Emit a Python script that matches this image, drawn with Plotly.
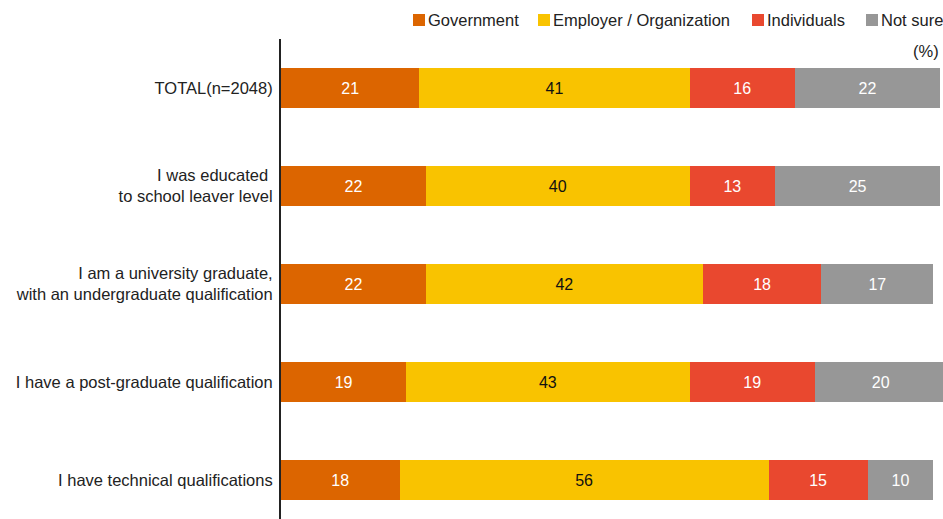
import plotly.graph_objects as go

# Survey data: who should pay for training, by education level (%)
categories = [
    "TOTAL(n=2048)",
    "I was educated\u00a0<br>to school leaver level",
    "I am a university graduate,<br>with an undergraduate qualification",
    "I have a post-graduate qualification",
    "I have technical qualifications",
]
series_names = ["Government", "Employer / Organization", "Individuals", "Not sure"]
government = [21, 22, 22, 19, 18]
employer = [41, 40, 42, 43, 56]
individuals = [16, 13, 18, 19, 15]
not_sure = [22, 25, 17, 20, 10]

series_values = [government, employer, individuals, not_sure]
colors = ["#DC6500", "#F9C300", "#E9482F", "#979797"]
text_colors = ["white", "#111111", "white", "white"]

W, H = 943, 519
ML, MR, MT, MB = 281, 0, 39, 0
PW, PH = W - ML - MR, H - MT - MB

FONT = "Liberation Sans, Arial, Helvetica, sans-serif"
LABEL_SIZE = 16.5

fig = go.Figure()
for name, vals, col, tcol in zip(series_names, series_values, colors, text_colors):
    fig.add_trace(go.Bar(
        y=categories, x=vals, name=name, orientation="h",
        marker=dict(color=col, line=dict(width=0)),
        text=[str(v) for v in vals], textposition="inside",
        insidetextanchor="middle",
        textfont=dict(color=tcol, size=16, family=FONT),
        showlegend=False,
    ))

# pixel -> paper helpers for the legend row
def px_x(px):
    return (px - ML) / PW

def px_y(py):
    return (H - MB - py) / PH

shapes = []
annotations = []
legend_left = [413, 538, 752, 866]
for name, col, left in zip(series_names, colors, legend_left):
    shapes.append(dict(type="rect", xref="paper", yref="paper",
                       x0=px_x(left), x1=px_x(left + 12),
                       y0=px_y(26), y1=px_y(14),
                       fillcolor=col, line=dict(width=0)))
    annotations.append(dict(text=name, xref="paper", yref="paper",
                            x=px_x(left + 13), y=px_y(20),
                            xanchor="left", yanchor="middle", showarrow=False,
                            font=dict(size=LABEL_SIZE, color="#222222", family=FONT)))

annotations.append(dict(text="(%)", xref="paper", yref="paper",
                        x=px_x(941), y=px_y(51), xanchor="right", yanchor="middle",
                        showarrow=False,
                        font=dict(size=LABEL_SIZE, color="#222222", family=FONT)))

px_per_unit = 6.59
row_step = 98.0
first_center = 49.0  # px from the top of the plot area to the first bar centre
fig.update_layout(
    width=W, height=H,
    margin=dict(l=ML, r=MR, t=MT, b=MB, pad=0),
    barmode="stack", bargap=1 - 40 / row_step,
    plot_bgcolor="white", paper_bgcolor="white",
    font=dict(family=FONT, size=16, color="#222222"),
    shapes=shapes, annotations=annotations,
    uniformtext=dict(mode=False),
    xaxis=dict(range=[0, PW / px_per_unit], visible=False, fixedrange=True),
    yaxis=dict(
        categoryorder="array", categoryarray=categories,
        range=[(PH - first_center) / row_step, -first_center / row_step],
        showline=True, linecolor="#222222", linewidth=2,
        showgrid=False, zeroline=False, ticks="",
        ticklabelstandoff=3,
        tickfont=dict(size=LABEL_SIZE, color="#222222", family=FONT),
    ),
)

fig.write_html("out.html")
